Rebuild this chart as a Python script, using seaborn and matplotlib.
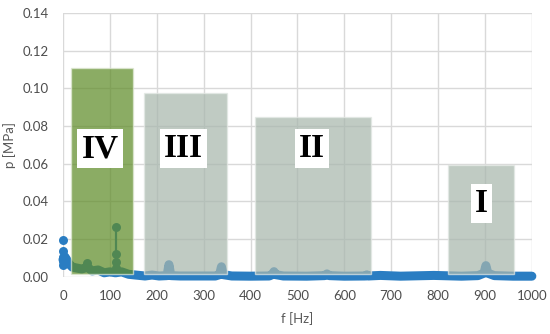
import matplotlib
matplotlib.use('Agg')
import matplotlib.pyplot as plt
import seaborn as sns
import pandas as pd

# spectrum (f in Hz, p in MPa)
spec_f = [0, 4, 8, 12, 16, 20, 30, 40, 52, 62, 75, 88, 100, 112, 125, 140, 155, 175, 190,
          205, 222, 226, 230, 250, 290, 325, 334, 338, 342, 360, 400, 440, 446, 450, 454,
          470, 520, 558, 563, 568, 600, 645, 648, 651, 677, 720, 791, 850, 885, 898, 902,
          906, 920, 960, 1000]
spec_p = [0.009, 0.0105, 0.009, 0.007, 0.006, 0.005, 0.0045, 0.004, 0.005, 0.003, 0.0035, 0.002,
          0.0025, 0.002, 0.0025, 0.0012, 0.0008, 0.0003, 0.0008, 0.0003, 0.0005, 0.0063, 0.0005,
          0.0003, 0.0003, 0.0003, 0.0010, 0.0052, 0.0010, 0.0003, 0.0002, 0.0003, 0.0010, 0.0026,
          0.0010, 0.0003, 0.0002, 0.0005, 0.0014, 0.0005, 0.0002, 0.0003, 0.0009, 0.0003, 0.0006,
          0.0002, 0.0006, 0.0002, 0.0005, 0.0018, 0.0058, 0.0018, 0.0005, 0.0002, 0.0002]

# single dots on top of the spectrum
dot_f = [0, 0, 0, 0, 0, 113, 113, 113, 113, 52]
dot_p = [0.0194, 0.0137, 0.0105, 0.008, 0.006, 0.0264, 0.0118, 0.0079, 0.0045, 0.0073]

# stem at ~113 Hz
stem_f = [113, 113]
stem_p = [0.0015, 0.0264]

# frequency ranges I..IV
region_names = ['IV', 'III', 'II', 'I']
region_lo = [18, 172, 409, 821]
region_hi = [149, 350, 658, 962]
region_top = [0.111, 0.0977, 0.0848, 0.059]
region_bottom = 0.0016
label_f = [79, 256, 531, 893]
label_p = [0.068, 0.068, 0.068, 0.039]

spec = pd.DataFrame({'f': spec_f, 'p': spec_p})
dots = pd.DataFrame({'f': dot_f, 'p': dot_p})
stem = pd.DataFrame({'f': stem_f, 'p': stem_p})

sns.set_style('white')
plt.rcParams['font.family'] = ['Lato', 'DejaVu Sans']

blue = '#2a7dc2'
fig, ax = plt.subplots(figsize=(5.5, 3.34), dpi=100)
fig.subplots_adjust(left=0.1145, right=0.967, bottom=0.172, top=0.961)

sns.lineplot(data=spec, x='f', y='p', ax=ax, color=blue, lw=6.5, sort=False, estimator=None,
             solid_capstyle='round', solid_joinstyle='round', zorder=2, clip_on=False)
sns.lineplot(data=stem, x='f', y='p', ax=ax, color=blue, lw=1.6, sort=False, estimator=None, zorder=2)
sns.scatterplot(data=dots, x='f', y='p', ax=ax, color=blue, s=42, linewidth=0, zorder=2, clip_on=False)

colors = ['#5f8c28', '#a8b7ad', '#a8b7ad', '#a8b7ad']
edges = ['#dfe8d4', '#e3e8e4', '#e3e8e4', '#e3e8e4']
for lo, hi, top, c, ec in zip(region_lo, region_hi, region_top, colors, edges):
    ax.bar(lo, top - region_bottom, width=hi - lo, bottom=region_bottom, align='edge',
           color=c, alpha=0.72, edgecolor=ec, linewidth=1, zorder=3)

for name, x, y in zip(region_names, label_f, label_p):
    ax.text(x, y, name, ha='center', va='center', fontsize=24, fontweight='bold',
            family='Liberation Serif', color='black', zorder=4,
            bbox=dict(facecolor='white', edgecolor='none', pad=3))

ax.set_xlim(0, 1000)
ax.set_ylim(0, 0.14)
ax.set_xticks(range(0, 1001, 100))
ax.set_yticks([0, 0.02, 0.04, 0.06, 0.08, 0.10, 0.12, 0.14])
ax.set_yticklabels(['0.00', '0.02', '0.04', '0.06', '0.08', '0.10', '0.12', '0.14'])
ax.grid(True, color='#d9d9d9', lw=1, zorder=0)
ax.set_axisbelow(True)
for s in ax.spines.values():
    s.set_visible(False)
ax.tick_params(axis='x', length=0, pad=10, labelsize=9.5, labelcolor='#4d4d4d')
ax.tick_params(axis='y', length=0, pad=10, labelsize=9.5, labelcolor='#4d4d4d')
ax.set_xlabel('f [Hz]', fontsize=9.5, color='#595959')
ax.set_ylabel('p [MPa]', fontsize=9.5, color='#595959')
ax.xaxis.set_label_coords(0.5, -0.135)
ax.yaxis.set_label_coords(-0.1, 0.5)

fig.savefig('out.png', dpi=100)
